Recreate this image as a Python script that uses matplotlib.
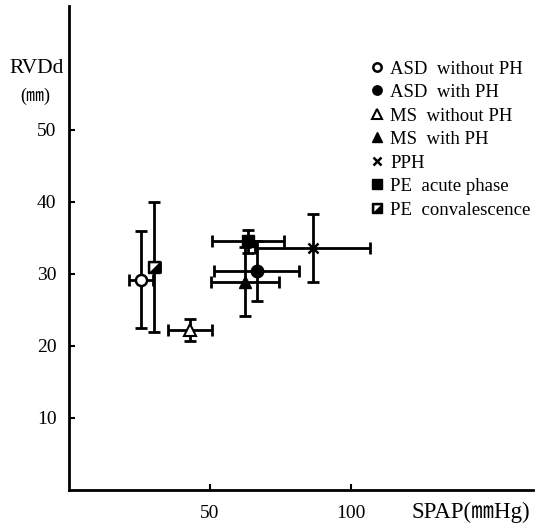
import matplotlib.pyplot as plt
from matplotlib.path import Path
from matplotlib.legend_handler import HandlerTuple

groups = ["ASD  without PH", "ASD  with PH", "MS  without PH", "MS  with PH",
          "PPH", "PE  acute phase", "PE  convalescence"]
spap = [25.4, 66.5, 42.9, 62.4, 86.4, 63.5, 30.3]
spap_sd = [4.3, 15.0, 7.7, 12.1, 20.3, 12.7, 2.0]
rvdd = [29.2, 30.4, 22.2, 28.9, 33.6, 34.5, 31.0]
rvdd_sd = [6.7, 4.2, 1.5, 4.8, 4.75, 1.6, 9.0]

serif = ["Liberation Serif", "Noto Sans CJK JP"]
plt.rcParams['font.family'] = serif

# upper-left white half used for the convalescence square
half = Path([(-1, 1), (1, 1), (-1, -1), (-1, 1)],
            [Path.MOVETO, Path.LINETO, Path.LINETO, Path.CLOSEPOLY])

styles = [
    dict(marker='o', mfc='white', mec='black', mew=1.8, ms=8),
    dict(marker='o', mfc='black', mec='black', ms=9),
    dict(marker='^', mfc='white', mec='black', mew=1.5, ms=9),
    dict(marker='^', mfc='black', mec='black', ms=9),
    dict(marker='x', mfc='black', mec='black', mew=1.8, ms=7),
    dict(marker='s', mfc='black', mec='black', ms=9),
    dict(marker='s', mfc='black', mec='black', ms=9),
]

fig = plt.figure(figsize=(5.37, 5.28), dpi=100)
ax = fig.add_axes([0.1285, 0.072, 0.864, 0.9167])

handles = []
for i in range(len(groups)):
    ax.errorbar(spap[i], rvdd[i], xerr=spap_sd[i], yerr=rvdd_sd[i], fmt='none',
                ecolor='black', elinewidth=2, capsize=4, capthick=2, zorder=2)
    ax.plot(spap[i], rvdd[i], ls='none', zorder=3, **styles[i])
    h = plt.Line2D([], [], ls='none', **{**styles[i], 'ms': styles[i]['ms'] * 0.75})
    if i == 6:
        ax.plot(spap[i], rvdd[i], ls='none', marker=half, mfc='white', mec='none',
                ms=6, zorder=4)
        h2 = plt.Line2D([], [], ls='none', marker=half, mfc='white', mec='none', ms=4.5)
        h = (h, h2)
    handles.append(h)

ax.legend(handles, groups, loc='upper left', bbox_to_anchor=(0.632, 0.903),
          frameon=False, handlelength=0.8, handletextpad=0.3,
          labelspacing=0.34, borderaxespad=0,
          handler_map={tuple: HandlerTuple(ndivide=1)},
          prop={'family': serif, 'size': 13.5})

ax.set_xlim(0, 164.5)
ax.set_ylim(0, 67.2)
ax.set_xticks([50, 100])
ax.set_yticks([10, 20, 30, 40, 50])
ax.tick_params(direction='in', length=4, width=1.5, labelsize=14)
ax.tick_params(axis='x', pad=11)
ax.tick_params(axis='y', pad=9)
ax.spines['top'].set_visible(False)
ax.spines['right'].set_visible(False)
ax.spines['left'].set_linewidth(2)
ax.spines['bottom'].set_linewidth(2)

fig.text(0.018, 0.862, "RVDd", fontsize=15.5, family=serif)
fig.text(0.038, 0.808, "(㎜)", fontsize=13, family=serif)
fig.text(0.988, 0.018, "SPAP(㎜Hg)", fontsize=16.5, family=serif, ha='right')

fig.savefig("out.png", dpi=100)
